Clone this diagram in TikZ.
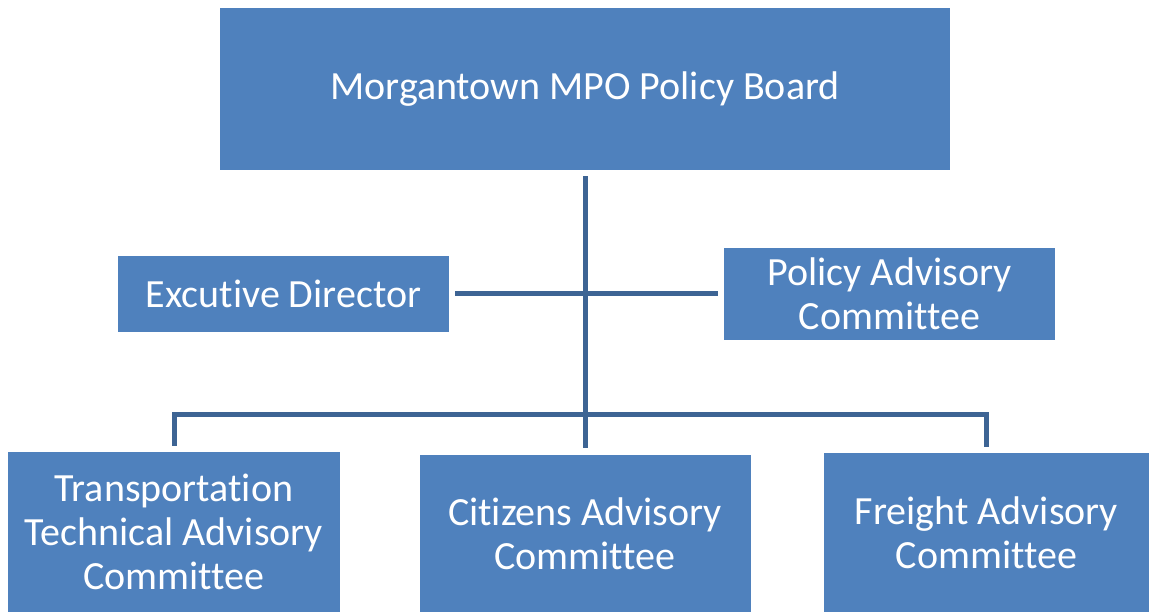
\documentclass[tikz,border=0pt]{standalone}
\usepackage{fontspec}
\setmainfont{Carlito}[Ligatures=NoCommon]
\usetikzlibrary{calc, positioning}
\definecolor{boxblue}{RGB}{79, 129, 189}
\definecolor{linkblue}{RGB}{61, 100, 148}

\begin{document}
\begin{tikzpicture}[x=0.75pt, y=-0.75pt]%
        \tikzstyle{unit} = [fill=boxblue, text=white, align=center, inner sep=0pt,
                            minimum width=331*0.75pt, font=\fontsize{30}{33}\selectfont]
        \tikzstyle{link} = [linkblue, line width=3.75pt]

        \useasboundingbox (0,0) rectangle (1149,612);

        \node[unit, minimum width=730*0.75pt, minimum height=162*0.75pt] (board) at (585,89) {Morgantown MPO Policy Board};
        \node[unit, minimum height=76*0.75pt] (director) at (283.5,293.5) {Excutive Director};
        \node[unit, minimum height=92*0.75pt] (pac) at (889.5,293.5) {Policy Advisory\\Committee};

        \node[unit, minimum width=332*0.75pt, minimum height=160*0.75pt] (ttac) at (174,532) {Transportation\\Technical Advisory\\Committee};
        \node[unit, minimum height=157*0.75pt] (cac) at (585,533.5) {Citizens Advisory\\Committee};
        \node[unit, minimum width=326*0.75pt, minimum height=159*0.75pt] (fac) at (986.5,532.5) {Freight Advisory\\Committee};

        % junctions on the trunk
        \coordinate (hub) at (585,293.5);
        \coordinate (bus) at (585,414);

        \draw[link, shorten <=4.5pt, shorten >=5pt] (board.south) -- (cac.north);
        \draw[link, shorten <=4.5pt] (director.east) -- (hub);
        \draw[link, shorten >=4.5pt] (hub) -- (pac.west);
        \draw[link, shorten >=4pt] (bus) -| (ttac.north);
        \draw[link, shorten >=4.5pt] (bus) -| (fac.north);
      \end{tikzpicture}
\end{document}
